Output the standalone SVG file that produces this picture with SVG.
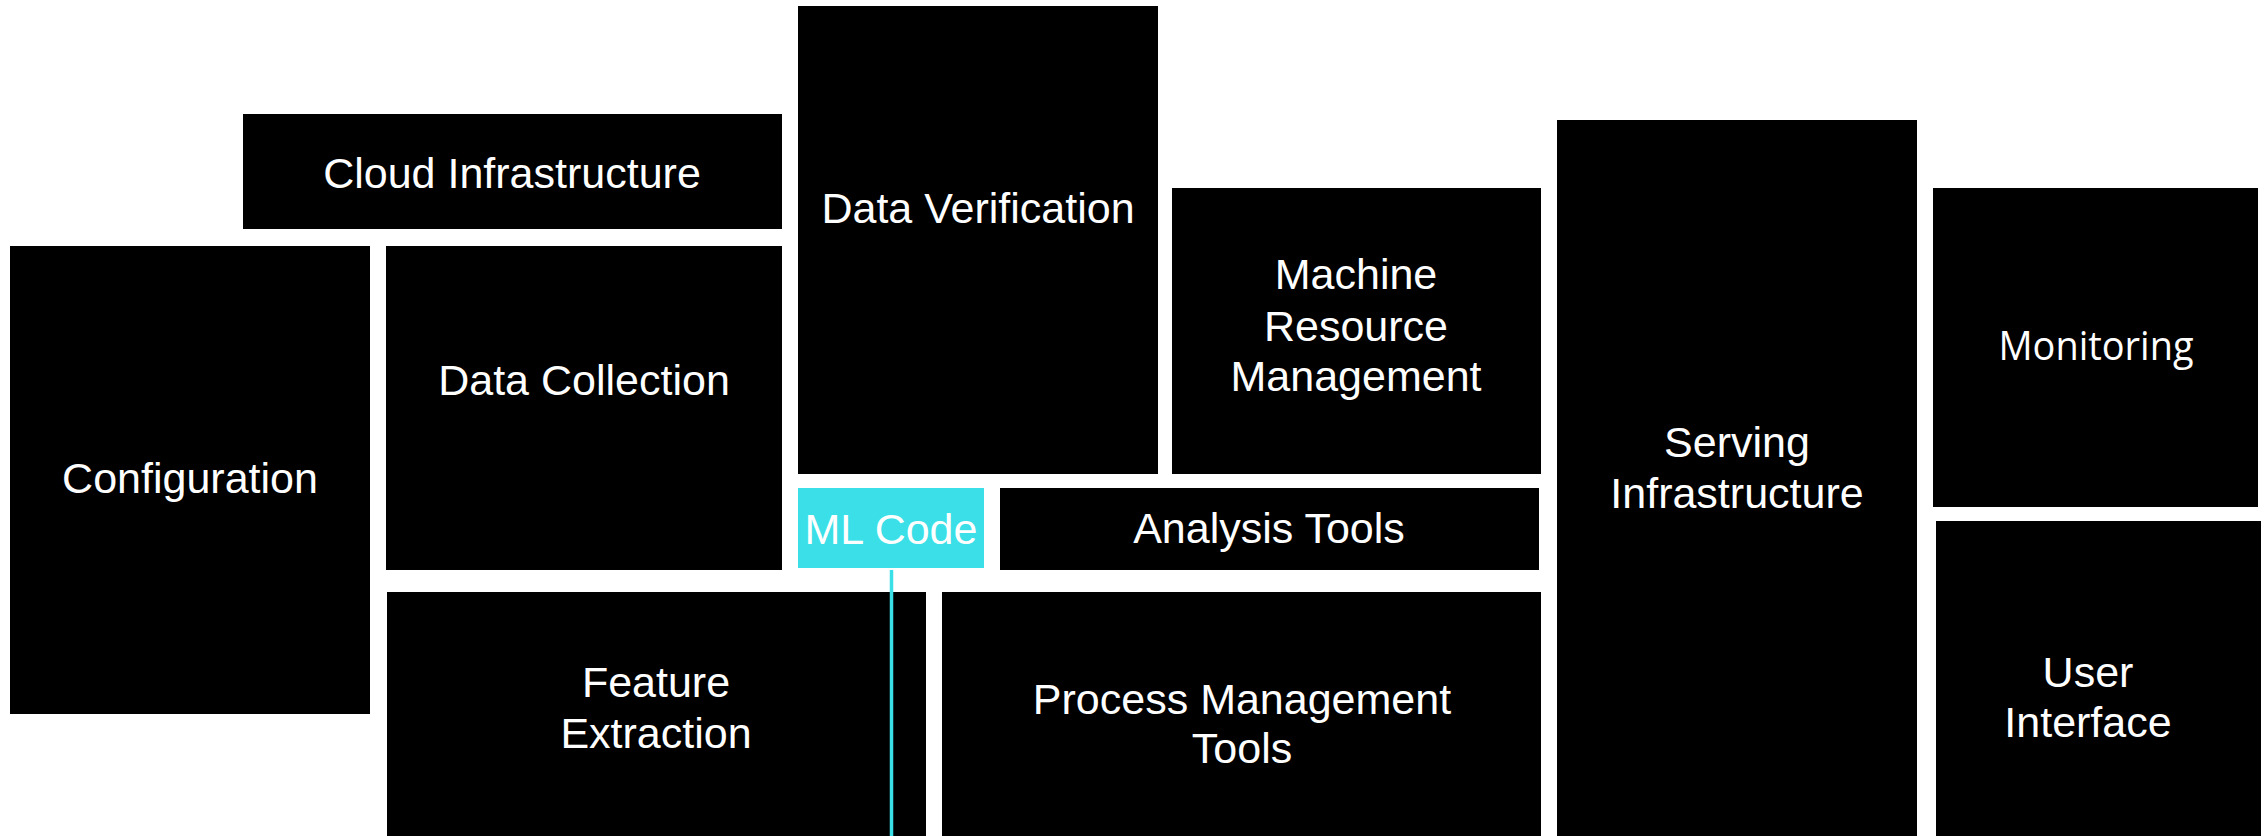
<svg xmlns="http://www.w3.org/2000/svg" width="2264" height="836" viewBox="0 0 2264 836">
<style>
.box{fill:#000000}
.ml{fill:#3ADFE7}
.t{font-family:"Liberation Sans",Arial,sans-serif;font-size:43px;fill:#ffffff;text-anchor:middle}
.t2{font-family:"Open Sans","Noto Sans",sans-serif;font-size:41px;fill:#ffffff;text-anchor:middle}
.conn{stroke:#3ADFE7;stroke-width:3.5;fill:none}
</style>
<rect x="0" y="0" width="2264" height="836" fill="#ffffff"/>
<g id="cloud-infrastructure"><rect class="box" x="243" y="114" width="539" height="115"/><text class="t" x="512" y="188">Cloud Infrastructure</text></g>
<g id="configuration"><rect class="box" x="10" y="246" width="360" height="468"/><text class="t" x="190" y="493">Configuration</text></g>
<g id="data-collection"><rect class="box" x="386" y="246" width="396" height="324"/><text class="t" x="584" y="395">Data Collection</text></g>
<g id="data-verification"><rect class="box" x="798" y="6" width="360" height="468"/><text class="t" x="978" y="223">Data Verification</text></g>
<g id="machine-resource-management"><rect class="box" x="1172" y="188" width="369" height="286"/><text class="t" x="1356" y="289">Machine</text><text class="t" x="1356" y="341">Resource</text><text class="t" x="1356" y="391">Management</text></g>
<g id="ml-code"><rect class="ml" x="798" y="488" width="186" height="80"/><text class="t" x="891" y="544">ML Code</text></g>
<g id="analysis-tools"><rect class="box" x="1000" y="488" width="539" height="82"/><text class="t" x="1269" y="543">Analysis Tools</text></g>
<g id="feature-extraction"><rect class="box" x="387" y="592" width="539" height="244"/><text class="t" x="656" y="697">Feature</text><text class="t" x="656" y="748">Extraction</text></g>
<g id="process-management-tools"><rect class="box" x="942" y="592" width="599" height="244"/><text class="t" x="1242" y="714">Process Management</text><text class="t" x="1242" y="763">Tools</text></g>
<g id="serving-infrastructure"><rect class="box" x="1557" y="120" width="360" height="716"/><text class="t" x="1737" y="457">Serving</text><text class="t" x="1737" y="508">Infrastructure</text></g>
<g id="monitoring"><rect class="box" x="1933" y="188" width="325" height="319"/><text class="t2" x="2096" y="360" textLength="195" lengthAdjust="spacingAndGlyphs">Monitoring</text></g>
<g id="user-interface"><rect class="box" x="1936" y="521" width="325" height="315"/><text class="t" x="2088" y="687">User</text><text class="t" x="2088" y="737">Interface</text></g>
<g id="connectors"><line class="conn" x1="891.5" y1="570" x2="891.5" y2="836"/></g>
</svg>
